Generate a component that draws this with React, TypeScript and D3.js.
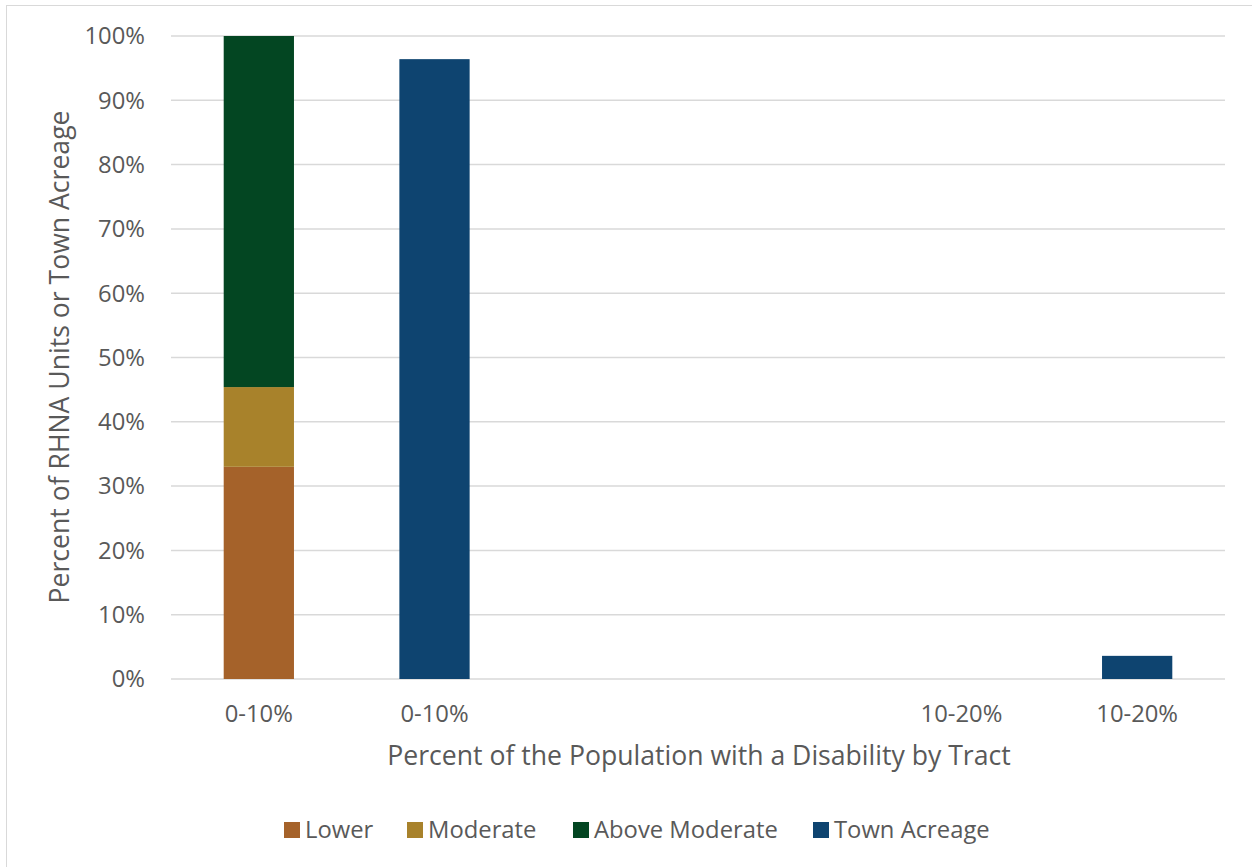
import React, { useEffect, useRef } from "react";
import * as d3 from "d3";

const slots = ["s0", "s1", "s2", "s3", "s4", "s5"];
const slotLabels = ["0-10%", "0-10%", "", "", "10-20%", "10-20%"];
const lowerVals = [33.0, 0, 0, 0, 0, 0];
const moderateVals = [12.4, 0, 0, 0, 0, 0];
const aboveModerateVals = [54.6, 0, 0, 0, 0, 0];
const townAcreageVals = [0, 96.4, 0, 0, 0, 3.6];
const yTicks = [0, 10, 20, 30, 40, 50, 60, 70, 80, 90, 100];
const seriesNames = ["Lower", "Moderate", "Above Moderate", "Town Acreage"];
const seriesColors = ["#A5622A", "#A8822B", "#034622", "#0E4470"];

const W = 1252;
const H = 867;
const M = { left: 171, right: 1225, top: 36, bottom: 679 };
const TXT = "#595959";
const FONT = "'Open Sans', sans-serif";

export default function App() {
  const ref = useRef<SVGSVGElement | null>(null);
  useEffect(() => {
    const svg = d3.select(ref.current);
    svg.selectAll("*").remove();

    svg.append("rect").attr("x", 6.5).attr("y", 5.5).attr("width", W).attr("height", H)
      .attr("fill", "#fff").attr("stroke", "#d9d9d9").attr("stroke-width", 1);

    const x = d3.scaleBand<string>().domain(slots).range([M.left, M.right]).padding(0);
    const y = d3.scaleLinear().domain([0, 100]).range([M.bottom, M.top]);
    const bw = x.bandwidth() * 0.4;

    const g = svg.append("g");
    g.selectAll("line.grid").data(yTicks).enter().append("line")
      .attr("x1", M.left).attr("x2", M.right)
      .attr("y1", (d) => y(d)).attr("y2", (d) => y(d))
      .attr("stroke", "#d9d9d9").attr("stroke-width", 1.5);

    g.selectAll("text.ytick").data(yTicks).enter().append("text")
      .attr("x", 145).attr("y", (d) => y(d)).attr("dy", "0.35em")
      .attr("text-anchor", "end").attr("fill", TXT)
      .style("font-family", FONT).style("font-size", "23.8px")
      .text((d) => d + "%");

    const stackData = slots.map((s, i) => ({
      slot: s,
      Lower: lowerVals[i],
      Moderate: moderateVals[i],
      "Above Moderate": aboveModerateVals[i],
    }));
    const stack = d3.stack<any>().keys(["Lower", "Moderate", "Above Moderate"]);
    const layers = stack(stackData);
    layers.forEach((layer, li) => {
      g.selectAll(null).data(layer.filter((d) => d[1] - d[0] > 0)).enter().append("rect")
        .attr("x", (d: any) => (x(d.data.slot) as number) + (x.bandwidth() - bw) / 2)
        .attr("width", bw)
        .attr("y", (d) => y(d[1]))
        .attr("height", (d) => y(d[0]) - y(d[1]))
        .attr("fill", seriesColors[li]);
    });

    const ta = slots.map((s, i) => ({ slot: s, v: townAcreageVals[i] })).filter((d) => d.v > 0);
    g.selectAll(null).data(ta).enter().append("rect")
      .attr("x", (d) => (x(d.slot) as number) + (x.bandwidth() - bw) / 2)
      .attr("width", bw)
      .attr("y", (d) => y(d.v))
      .attr("height", (d) => y(0) - y(d.v))
      .attr("fill", seriesColors[3]);

    g.selectAll("text.xtick").data(slots).enter().append("text")
      .attr("x", (d) => (x(d) as number) + x.bandwidth() / 2)
      .attr("y", 722)
      .attr("text-anchor", "middle").attr("fill", TXT)
      .style("font-family", FONT).style("font-size", "23.8px")
      .text((d, i) => slotLabels[i]);

    svg.append("text")
      .attr("x", (M.left + M.right) / 2 + 1).attr("y", 765)
      .attr("text-anchor", "middle").attr("fill", TXT)
      .style("font-family", FONT).style("font-size", "26.6px")
      .text("Percent of the Population with a Disability by Tract");

    svg.append("text")
      .attr("transform", `translate(69, ${357}) rotate(-90)`)
      .attr("text-anchor", "middle").attr("fill", TXT)
      .style("font-family", FONT).style("font-size", "26.6px")
      .text("Percent of RHNA Units or Town Acreage");

    const legendX = [284, 407, 573, 813];
    const lg = svg.append("g");
    seriesNames.forEach((n, i) => {
      lg.append("rect").attr("x", legendX[i]).attr("y", 822).attr("width", 16).attr("height", 16)
        .attr("fill", seriesColors[i]);
      lg.append("text").attr("x", legendX[i] + 21).attr("y", 830).attr("dy", "0.35em")
        .attr("fill", TXT).style("font-family", FONT).style("font-size", "23.8px").text(n);
    });
  }, []);

  return (
    <svg ref={ref} width={W} height={H}
      style={{ position: "absolute", left: 0, top: 0, display: "block" }} />
  );
}
